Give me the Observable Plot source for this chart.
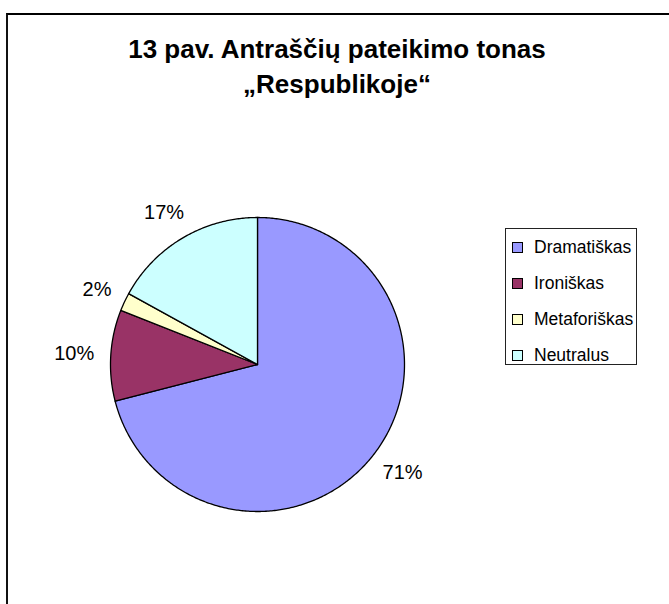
<!DOCTYPE html>
<html>
<head>
<meta charset="utf-8">
<script src="https://cdn.jsdelivr.net/npm/d3@7"></script>
<script src="https://cdn.jsdelivr.net/npm/@observablehq/plot@0.6"></script>
<style>
  html, body { margin: 0; padding: 0; background: #fff; }
  #wrap { position: relative; width: 669px; height: 604px; overflow: hidden; background: #fff;
          font-family: "Liberation Sans", Arial, sans-serif; }
  #frame { position: absolute; left: 6px; top: 13px; width: 700px; height: 700px;
           border-left: 2px solid #111; border-top: 2px solid #000; box-sizing: border-box; }
  #title { position: absolute; left: 0; width: 674px; top: 32px; text-align: center;
           font-weight: bold; font-size: 26px; line-height: 35px; color: #000; }
  #legend { position: absolute; left: 505px; top: 228px; width: 132px; height: 137px;
            border: 1px solid #222; box-sizing: border-box; background: #fff; }
  .li { position: absolute; left: 0; height: 24px; display: flex; align-items: center; font-size: 17.5px; color:#000; white-space: nowrap; }
  .sw { width: 9px; height: 9px; border: 1px solid #000; margin-left: 6px; margin-right: 11px; box-sizing: content-box; }
  #plot { position: absolute; left: 0; top: 0; }
</style>
</head>
<body>
<div id="wrap">
  <div id="plot"></div>
  <div id="frame"></div>
  <div id="title"></div>
  <div id="legend"></div>
</div>
<script>
const titleLines = ["13 pav. Antraščių pateikimo tonas", "„Respublikoje“"];
const categories = ["Dramatiškas", "Ironiškas", "Metaforiškas", "Neutralus"];
const values = [71, 10, 2, 17];
const colors = ["#9999FF", "#993366", "#FFFFCC", "#CCFFFF"];

document.getElementById("title").innerHTML = titleLines.join("<br>");

const cx = 257, cy = 364, R = 147, W = 669, H = 604;
const labelSize = 20;

const arcs = d3.pie().sort(null).value(d => d)(values);
const slicePts = [];
arcs.forEach((a, i) => {
  slicePts.push({cat: categories[i], x: 0, y: 0});
  const n = Math.max(4, Math.ceil((a.endAngle - a.startAngle) / 0.01));
  for (let k = 0; k <= n; k++) {
    const t = a.startAngle + (a.endAngle - a.startAngle) * k / n;
    slicePts.push({cat: categories[i], x: Math.sin(t), y: Math.cos(t)});
  }
});
// label placed so its box sits just outside the rim (Excel "outside end" style)
const labels = arcs.map((a, i) => {
  const m = (a.startAngle + a.endAngle) / 2;
  const s = Math.sin(m), c = Math.cos(m);
  const txt = values[i] + "%";
  const w = txt.length * labelSize * 0.62, h = labelSize * 1.2;
  const rr = 1 + 18 / R;
  return {text: txt,
          x: rr * s + (s * w / 2) / R,
          y: rr * c + (c * h / 2) / R};
});

const chart = Plot.plot({
  width: W, height: H,
  marginLeft: cx - R, marginRight: W - (cx + R),
  marginTop: cy - R, marginBottom: H - (cy + R),
  x: {domain: [-1, 1], axis: null},
  y: {domain: [-1, 1], axis: null},
  color: {domain: categories, range: colors},
  style: {background: "none", fontFamily: "Liberation Sans, Arial, sans-serif", overflow: "visible"},
  marks: [
    Plot.line(slicePts, {x: "x", y: "y", z: "cat", fill: "cat", stroke: "#000", strokeWidth: 1.3, curve: "linear-closed"}),
    Plot.text(labels, {x: "x", y: "y", text: "text", fontSize: labelSize, fill: "#000"})
  ]
});
document.getElementById("plot").appendChild(chart);

const lg = document.getElementById("legend");
categories.forEach((c, i) => {
  const d = document.createElement("div");
  d.className = "li";
  d.style.top = (6 + i * 36.3) + "px";
  d.innerHTML = `<span class="sw" style="background:${colors[i]}"></span><span>${c}</span>`;
  lg.appendChild(d);
});
</script>
</body>
</html>
